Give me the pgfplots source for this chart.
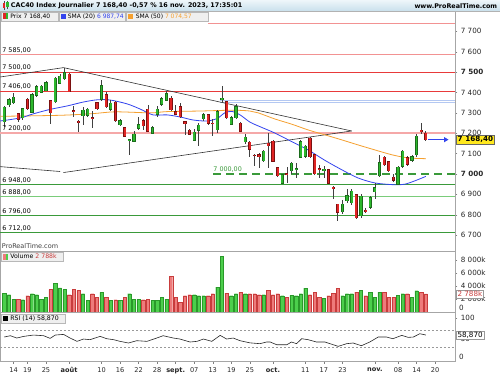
\documentclass[border=0pt]{standalone}
\usepackage{pgfplots}
\pgfplotsset{compat=1.18}
\usepackage{pgfplotstable}
\usepackage{fontspec}
\setmainfont{DejaVu Sans}
\usetikzlibrary{arrows.meta}
\definecolor{upfill}{HTML}{2DB82D}
\definecolor{updraw}{HTML}{1B6B1B}
\definecolor{dnfill}{HTML}{E02424}
\definecolor{dndraw}{HTML}{7A1010}
\definecolor{vup}{HTML}{4CCF4C}
\definecolor{vupd}{HTML}{2A992A}
\definecolor{vdn}{HTML}{EE7B7B}
\definecolor{vdnd}{HTML}{C83C3C}
\definecolor{smab}{HTML}{3344EE}
\definecolor{smao}{HTML}{F5A030}
\definecolor{resred}{HTML}{E83A3A}
\definecolor{ressal}{HTML}{F29292}
\definecolor{respink}{HTML}{F5A8A8}
\definecolor{supg}{HTML}{3A9A3A}
\definecolor{supgl}{HTML}{7ACC7A}
\definecolor{lblue}{HTML}{B4C8F2}
\definecolor{hdrtop}{HTML}{EEF6FA}
\definecolor{hdrbot}{HTML}{C9E0EC}
\definecolor{boxbg}{HTML}{EFEFEF}
\definecolor{boxbd}{HTML}{B8B8B8}
\definecolor{pyellow}{HTML}{FFE81E}
\newcommand{\fs}[1]{\fontsize{#1}{#1}\selectfont}

\pgfplotstableread{
i O H L C V
-2 7257 7335 7232 7327 2926
-1 7340 7375 7330 7365 2667
0 7350 7398 7345 7377 2011
2 7275 7325 7265 7320 1905
4 7304 7398 7300 7389 2819
5 7386 7435 7380 7427 2667
6 7402 7436 7398 7430 2011
7 7409 7455 7405 7448 2316
9 7355 7475 7350 7470 4359
10 7445 7490 7440 7480 3698
11 7468 7520 7462 7498 3444
15 7285 7330 7240 7313 2819
16 7288 7325 7280 7318 1805
19 7367 7460 7360 7432 3028
21 7318 7365 7310 7348 1805
23 7242 7268 7235 7260 1805
25 7165 7172 7092 7168 2819
26 7160 7212 7155 7195 2011
27 7225 7280 7215 7242 2011
30 7200 7235 7195 7226 1805
31 7292 7335 7280 7318 1805
32 7342 7378 7335 7370 2316
33 7362 7405 7358 7395 2011
39 7165 7220 7160 7205 2667
40 7215 7248 7138 7240 2515
41 7270 7300 7262 7290 2515
44 7218 7312 7200 7305 3825
45 7368 7432 7350 7372 8504
47 7245 7285 7240 7276 2515
48 7275 7342 7268 7330 2819
50 7158 7195 7145 7180 2819
54 7065 7118 7060 7112 2667
58 6955 7000 6950 6996 2515
60 7015 7058 7000 7053 2565
61 7020 7055 6980 7025 2515
62 7082 7165 7078 7158 2819
63 7088 7140 7080 7135 3687
67 7018 7040 6982 7022 2164
71 6815 6870 6805 6852 2515
72 6868 6925 6860 6892 2819
73 6858 6925 6850 6915 2819
75 6795 6900 6785 6890 3326
77 6838 6890 6830 6882 3073
78 6912 6955 6875 6932 2316
79 6992 7094 6985 7056 3073
83 6950 7040 6945 7033 2565
84 7038 7118 7030 7112 2819
86 7068 7095 7060 7085 2316
87 7095 7195 7085 7185 3275
}\upT

\pgfplotstableread{
i O H L C V
1 7296 7300 7255 7270 2011
3 7367 7372 7315 7321 2515
8 7360 7365 7245 7300 3444
12 7490 7495 7400 7403 2667
13 7310 7335 7282 7305 3444
14 7258 7265 7205 7255 3292
17 7275 7310 7225 7272 2819
18 7350 7355 7315 7320 2316
20 7388 7400 7325 7330 2316
22 7352 7358 7255 7262 1905
24 7226 7232 7180 7186 2316
28 7260 7270 7218 7237 1905
29 7318 7340 7205 7210 2011
34 7372 7385 7310 7315 5466
35 7306 7340 7288 7294 2316
36 7330 7350 7275 7280 1554
37 7255 7260 7190 7250 2515
38 7215 7220 7190 7195 2667
42 7290 7295 7240 7248 2515
43 7250 7270 7185 7246 2819
46 7355 7360 7268 7275 2926
49 7250 7255 7205 7210 3028
51 7155 7160 7085 7122 2819
52 7092 7100 7038 7090 2819
53 7095 7102 7030 7085 2667
55 7150 7200 7030 7138 3326
56 7160 7168 7058 7062 2667
57 7030 7035 6985 6992 2819
59 7002 7035 6958 6998 2316
64 7175 7180 7080 7085 2667
65 7094 7100 6995 7000 3073
66 7025 7045 6980 7022 2316
68 7020 7025 6950 6955 2515
69 6935 6940 6875 6932 2926
70 6852 6855 6770 6813 3687
74 6898 6900 6780 6785 3073
76 6822 6835 6810 6818 2515
80 7082 7090 7040 7045 3073
81 7060 7065 7010 7015 2316
82 6985 7000 6962 6970 2316
85 7080 7090 7040 7048 2819
88 7215 7248 7195 7210 3073
89 7200 7210 7162 7168.4 2788
}\dnT

\begin{document}
\begin{tikzpicture}[x=1pt,y=1pt]
\fill[white] (0,0) rectangle (500,375);
\pgfplotsset{
  prtaxis/.style={
    scale only axis, width=455pt, xmin=-2.87, xmax=95.26,
    axis line style={draw=black!35, line width=0.5pt},
    yticklabel pos=right, ytick pos=right,
    tick align=outside, major tick length=2.5pt,
    tick style={draw=black!50, line width=0.4pt},
    yticklabel style={font=\fs{7.2}, text=black!85},
    clip mode=individual,
  },
  wick/.style={draw=none, forget plot, error bars/.cd, y dir=both, y explicit, error mark=none,
     error bar style={draw=black!75, line width=0.7pt, line cap=butt}},
  bodyo/.style={draw=none, forget plot, error bars/.cd, y dir=both, y explicit, error mark=none,
     error bar style={draw=#1, line width=3.2pt, line cap=butt}},
  bodyi/.style={draw=none, forget plot, error bars/.cd, y dir=both, y explicit, error mark=none,
     error bar style={draw=#1, line width=1.8pt, line cap=butt}},
}
% ================= PRICE =================
\begin{axis}[prtaxis, at={(0pt,124pt)}, anchor=south west, height=240pt,
  ymin=6623, ymax=7800, xtick=\empty,
  ytick={6700,6800,6900,7000,7100,7200,7300,7400,7500,7600,7700},
  yticklabels={6 700,6 800,6 900,\textbf{7 000},7 100,7 200,7 300,7 400,\textbf{7 500},7 600,7 700}]
\addplot[ressal, line width=0.9pt] coordinates {(42,7739) (95.26,7739)};
\addplot[ressal, line width=0.9pt] coordinates {(-2.87,7585) (95.26,7585)};
\addplot[resred, line width=0.9pt] coordinates {(-2.87,7500) (95.26,7500)};
\addplot[resred, line width=0.9pt] coordinates {(-2.87,7406) (95.26,7406)};
\addplot[respink, line width=1.8pt] coordinates {(-2.87,7200) (95.26,7200)};
\addplot[lblue, line width=0.8pt] coordinates {(44.5,7362) (95.26,7362)};
\addplot[lblue, line width=0.8pt] coordinates {(44.5,7351) (95.26,7351)};
\addplot[supg, line width=0.9pt] coordinates {(-2.87,6948) (95.26,6948)};
\addplot[supgl, line width=0.9pt] coordinates {(-2.87,6888) (95.26,6888)};
\addplot[supg, line width=0.9pt] coordinates {(-2.87,6796) (95.26,6796)};
\addplot[supg, line width=0.9pt] coordinates {(-2.87,6712) (95.26,6712)};
\addplot[supg, line width=1.7pt, dash pattern=on 8pt off 5pt] coordinates {(43.1,7000) (95.26,7000)};
\addplot[black!80, line width=0.6pt] coordinates {(-2.87,7476) (10.78,7522) (72.98,7211)};
\addplot[black!80, line width=0.6pt] coordinates {(-2.87,7036) (10.07,7012)};
\addplot[black!80, line width=0.6pt] coordinates {(10.78,7007) (72.98,7211)};
\addplot[smao, line width=0.8pt, smooth] coordinates {(-2.87,7283) (10,7288) (17,7296) (22,7305) (29.5,7300) (33.1,7306) (40.3,7309) (47.4,7313) (51,7309) (52.8,7300) (56.4,7270) (60.1,7244) (63.6,7216) (67.2,7192) (70.9,7167) (74.3,7143) (78,7118) (81.7,7094) (85.1,7079) (89,7075)};
\addplot[smab, line width=0.8pt, smooth] coordinates {(-2.87,7260) (1.44,7275) (4.25,7295) (7.9,7317) (11.6,7334) (15.05,7353) (18.05,7364) (20.85,7363) (24.5,7344) (27.3,7319) (30.1,7290) (33.1,7290) (35.9,7280) (38.75,7265) (41.8,7260) (44,7273) (45.6,7300) (47.2,7307) (48.9,7290) (51,7255) (52.8,7236) (56.4,7201) (60.1,7158) (63.6,7118) (67.2,7067) (70.9,7020) (74.3,6981) (78,6956) (82.3,6947) (84.5,6950) (86.6,6966) (89,6988)};
\addplot[wick] table[x=i, y expr={(\thisrow{H}+\thisrow{L})/2}, y error expr={(\thisrow{H}-\thisrow{L})/2}] {\upT};
\addplot[wick] table[x=i, y expr={(\thisrow{H}+\thisrow{L})/2}, y error expr={(\thisrow{H}-\thisrow{L})/2}] {\dnT};
\addplot[bodyo=updraw] table[x=i, y expr={(\thisrow{O}+\thisrow{C})/2}, y error expr={abs(\thisrow{C}-\thisrow{O})/2+2.6}] {\upT};
\addplot[bodyi=upfill] table[x=i, y expr={(\thisrow{O}+\thisrow{C})/2}, y error expr={abs(\thisrow{C}-\thisrow{O})/2}] {\upT};
\addplot[bodyo=dndraw] table[x=i, y expr={(\thisrow{O}+\thisrow{C})/2}, y error expr={abs(\thisrow{C}-\thisrow{O})/2+2.6}] {\dnT};
\addplot[bodyi=dnfill] table[x=i, y expr={(\thisrow{O}+\thisrow{C})/2}, y error expr={abs(\thisrow{C}-\thisrow{O})/2}] {\dnT};
\draw[smab, line width=0.9pt, -{Triangle[length=4.5pt,width=5pt]}] (axis cs:89.5,7168.4) -- (axis cs:93.9,7168.4);
\node[fill=pyellow, draw=black!60, line width=0.4pt, inner sep=1.2pt, anchor=west, font=\bfseries\fs{7.2}, xshift=1.5pt] at (axis cs:95.26,7168.4) {7 168,40};
\node[anchor=south west, inner sep=0pt, font=\fs{6.4}, yshift=1.4pt] at (axis cs:-2.45,7585) {7 585,00};
\node[anchor=south west, inner sep=0pt, font=\fs{6.4}, yshift=1.4pt] at (axis cs:-2.45,7500) {7 500,00};
\node[anchor=south west, inner sep=0pt, font=\fs{6.4}, yshift=1.4pt] at (axis cs:-2.45,7406) {7 406,00};
\node[anchor=south west, inner sep=0pt, font=\fs{6.4}, yshift=1.4pt] at (axis cs:-2.45,7200) {7 200,00};
\node[anchor=south west, inner sep=0pt, font=\fs{6.4}, yshift=1.4pt] at (axis cs:-2.45,6948) {6 948,00};
\node[anchor=south west, inner sep=0pt, font=\fs{6.4}, yshift=1.4pt] at (axis cs:-2.45,6888) {6 888,00};
\node[anchor=south west, inner sep=0pt, font=\fs{6.4}, yshift=1.4pt] at (axis cs:-2.45,6796) {6 796,00};
\node[anchor=south west, inner sep=0pt, font=\fs{6.4}, yshift=1.4pt] at (axis cs:-2.45,6712) {6 712,00};
\node[anchor=south west, inner sep=0pt, font=\fs{6.4}, yshift=1.6pt, text=supg] at (axis cs:43.1,7000) {7 000,00};
\end{axis}
% ================= VOLUME =================
\begin{axis}[prtaxis, at={(0pt,62pt)}, anchor=south west, height=62pt,
  ymin=-76, ymax=9373, xtick=\empty,
  ytick={2000,4000,6000,8000}, yticklabels={2 000k,4 000k,6 000k,8 000k}]
\addplot[ybar, bar width=3.3pt, bar shift=0pt, fill=vup, draw=vupd, line width=0.4pt] table[x=i, y=V] {\upT};
\addplot[ybar, bar width=3.3pt, bar shift=0pt, fill=vdn, draw=vdnd, line width=0.4pt] table[x=i, y=V] {\dnT};
\node[anchor=west, inner sep=0pt, font=\fs{7.2}, text=black!85, xshift=4pt, yshift=4.6pt] at (axis cs:95.26,0) {0};
\node[fill=white, draw=black!40, line width=0.4pt, inner sep=1pt, anchor=west, font=\fs{7.2}, text=vdnd, xshift=1.5pt] at (axis cs:95.26,2788) {2 788k};
\end{axis}
% ================= RSI =================
\begin{axis}[prtaxis, at={(0pt,13.3pt)}, anchor=south west, height=48.7pt,
  ymin=-4.7, ymax=112.7,
  ytick={50,100}, yticklabels={50,100},
  xtick pos=bottom,
  xtick={0,3,7,12,19,23,27,31,35,39,43,47,51,56,63,67,71,78,83,87,91},
  xticklabels={14,19,25,\textbf{août},10,16,22,28,\textbf{sept.},07,13,19,25,\textbf{oct.},11,17,23,\textbf{nov.},08,14,20},
  xticklabel style={font=\fs{6.6}, text=black!85}]
\addplot[black!40, line width=0.5pt, dash pattern=on 2pt off 2pt] coordinates {(-2.87,70) (95.26,70)};
\addplot[black!40, line width=0.5pt, dash pattern=on 2pt off 2pt] coordinates {(-2.87,30) (95.26,30)};
\addplot[black!85, line width=0.6pt] coordinates {(-2,54.0) (-0.7,57.2) (0.7,51.6) (2.2,55.6) (4.3,58.8) (6.5,57.2) (7.9,50.8) (9,58.8) (10.8,60.4) (12.2,51.6) (13.7,43.6) (15.1,49.2) (16.5,47.6) (18.7,55.6) (20.1,50.0) (21.6,47.6) (23,43.6) (24.8,39.6) (26.6,45.2) (28.8,43.6) (30.9,51.6) (32.3,57.2) (34.5,51.6) (35.9,49.2) (38.1,42.0) (39.6,43.6) (41,49.2) (42.8,43.6) (44.6,58.0) (46,49.2) (47.4,51.6) (48.9,45.2) (51,40.0) (53.2,38.0) (54.6,42.0) (55.4,42.0) (56.8,35.5) (59,35.5) (60,42.0) (61.1,38.0) (62.2,50.0) (63.6,47.6) (65.4,42.0) (67.2,42.0) (70.1,31.5) (71.9,38.0) (73.3,39.6) (75.1,33.1) (76.9,42.0) (78.7,54.0) (80.5,54.0) (81.9,50.0) (83.8,58.0) (85.2,53.2) (86.3,54.0) (87.7,62.0) (89,58.87)};
\node[anchor=west, inner sep=0pt, font=\fs{7.2}, text=black!85, xshift=4pt, yshift=3pt] at (axis cs:95.26,0) {0};
\node[fill=white, draw=black!40, line width=0.4pt, inner sep=1pt, anchor=west, font=\fs{7.2}, text=black, xshift=1.5pt] at (axis cs:95.26,58.87) {58,870};
\end{axis}
% ================= HEADER & LEGENDS =================
\shade[top color=hdrtop, bottom color=hdrbot] (0,364) rectangle (500,375);
\draw[black!30, line width=0.4pt] (0,364) -- (500,364);
\draw[black!70, line width=0.4pt] (3.7,365.2) -- (3.7,373.5);
\fill[dnfill] (2.5,366.5) rectangle (5,371.5);
\draw[black!70, line width=0.4pt] (7.2,365.8) -- (7.2,374);
\fill[upfill] (6,367.5) rectangle (8.5,372.8);
\node[anchor=west, font=\bfseries\fs{6.4}, inner sep=0] at (10.5,369.3) {CAC40 Index Journalier 7 168,40 -0,57 \% 16 nov. 2023, 17:35:01};
\node[anchor=east, font=\bfseries\fs{6.4}, inner sep=0] at (497.5,369.3) {www.ProRealTime.com};
\filldraw[fill=boxbg, draw=boxbd, line width=0.4pt] (0.8,354) rectangle (58,363);
\fill[dnfill] (2.8,355.5) rectangle (5.3,361.5);
\fill[upfill] (5.3,355.5) rectangle (7.8,361.5);
\node[anchor=west, font=\fs{6.0}, inner sep=0] at (10,358.5) {Prix 7 168,40};
\filldraw[fill=boxbg, draw=boxbd, line width=0.4pt] (59,354) rectangle (125,363);
\fill[smab] (61,356) rectangle (66,361);
\node[anchor=west, font=\fs{6.0}, inner sep=0] at (67.5,358.5) {SMA (20) \textcolor{smab}{6 987,74}};
\filldraw[fill=boxbg, draw=boxbd, line width=0.4pt] (126,354) rectangle (208,363);
\fill[smao] (128,356) rectangle (133,361);
\node[anchor=west, font=\fs{6.0}, inner sep=0] at (135.5,358.5) {SMA (50) \textcolor{smao}{7 074,57}};
\node[anchor=west, font=\fs{6.5}, text=black!75, inner sep=0] at (1.5,128.3) {ProRealTime.com};
\filldraw[fill=boxbg, draw=boxbd, line width=0.4pt] (0.8,113.8) rectangle (63,122.6);
\fill[vdn] (2.8,115.2) rectangle (5.3,121.2);
\fill[vup] (5.3,115.2) rectangle (7.8,121.2);
\node[anchor=west, font=\fs{6.2}, inner sep=0] at (10,118.2) {Volume \textcolor{vdnd}{2 788k}};
\filldraw[fill=boxbg, draw=boxbd, line width=0.4pt] (0.8,52) rectangle (65,61);
\fill[black] (2.8,54) rectangle (7.8,59);
\node[anchor=west, font=\fs{6.2}, inner sep=0] at (10,56.5) {RSI (14) 58,870};
\end{tikzpicture}
\end{document}
